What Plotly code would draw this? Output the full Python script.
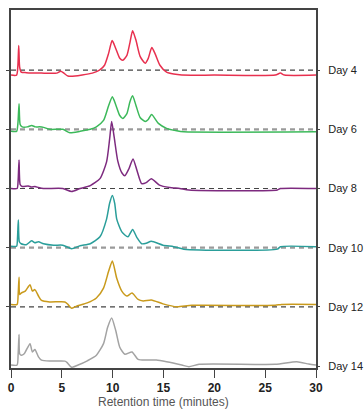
import plotly.graph_objects as go

# ---------------- data ----------------
days = ["Day 4", "Day 6", "Day 8", "Day 10", "Day 12", "Day 14"]
colors = ["#e8304f", "#3cb95a", "#7d2a7f", "#2a9e9a", "#c99a1c", "#a3a3a3"]

t_day4 = [0, 0.55, 0.68, 0.76, 0.85, 1.0, 1.5, 3.0, 4.5, 4.9, 5.2, 5.6, 6.3, 7.0, 8.0, 8.7, 9.2, 9.6, 9.95,
          10.3, 10.7, 11.0, 11.4, 11.7, 11.96, 12.3, 12.7, 13.2, 13.5, 13.85, 14.2, 14.65, 15.3, 16.0, 16.8,
          20, 26.0, 26.5, 26.9, 30]
s_day4 = [-5, -5, 5, 25, 3, -2, -2.5, -3, -3, -1, -3, -6, -6, -5, -3, 0, 5, 17, 30,
          22, 12, 10, 15, 28, 40, 30, 14, 7, 12, 23, 16, 5, -2, -4, -5,
          -5, -5, -3, -5, -5]

t_day6 = [0, 0.55, 0.68, 0.79, 0.9, 1.1, 1.6, 2.03, 2.4, 2.8, 3.2, 3.8, 5.1, 5.8, 6.8, 7.8, 8.4, 9.1, 9.6,
          9.97, 10.3, 10.7, 11.0, 11.4, 11.7, 11.96, 12.3, 12.7, 13.2, 13.5, 13.83, 14.5, 15.3, 16.3, 17, 30]
s_day6 = [-2, -2, 6, 26, 5, 2.5, 2.5, 4, 2.5, 2.5, 2, 0, 0, -3.5, -2, 0, 2.5, 9, 24,
          33, 25, 14, 11, 16, 28, 34, 24, 12, 8, 10, 15, 6, 1, -1.5, -2.5, -2.5]

t_day8 = [0, 0.6, 0.7, 0.79, 0.9, 1.1, 1.7, 2.0, 2.36, 2.7, 3.2, 5.1, 5.96, 6.8, 7.8, 8.75, 9.4, 9.7, 9.9,
          10.15, 10.5, 10.9, 11.2, 11.6, 12.0, 12.4, 12.85, 13.3, 13.8, 14.6, 15.6, 16.6, 17.5, 26.2, 26.5, 30]
s_day8 = [0, 0, 8, 29, 4, 2, 2.5, 1.5, 2, 1, 0, 0, -3, 0, 3, 10, 27, 50, 68,
          52, 28, 16, 13, 20, 30, 18, 5, 6, 10, 3.5, 1, 0, -1.5, -1.5, 0, 0]

t_day10 = [0, 0.55, 0.64, 0.72, 0.82, 1.0, 1.5, 2.03, 2.35, 2.7, 3.2, 4.2, 5.1, 5.96, 6.8, 7.8, 8.75, 9.4,
           9.7, 9.97, 10.2, 10.4, 10.9, 11.5, 11.96, 12.4, 12.85, 13.3, 13.8, 14.95, 16.0, 17, 26.2, 26.5, 30]
s_day10 = [1.5, 1.5, 10, 28, 6, 4, 3, 7, 5, 6, 4, 2.5, 2.5, -1, 2, 4, 11, 29,
           45, 53, 45, 29, 16, 11, 18.5, 10, 4, 4.5, 6.5, 2.5, 1, -1.5, -1.5, 1, 1]

t_day12 = [0, 0.6, 0.7, 0.79, 0.85, 1.0, 1.4, 1.87, 2.1, 2.35, 2.7, 3.0, 3.8, 5.3, 5.6, 5.96, 6.4, 7.5, 8.4,
           9.1, 9.6, 9.97, 10.4, 10.9, 11.4, 11.9, 12.5, 13.0, 13.8, 14.95, 16.3, 17.8, 26.0, 26.6, 30]
s_day12 = [2.5, 2.5, 12, 30, 12.5, 14, 16, 22.5, 16, 17.5, 11, 6.5, 5, 5, 2.5, -1.5, 0.5, 4, 9,
           19, 36, 46.5, 29, 16, 11, 14, 7.5, 6, 7, 3, 0, 1.5, 1.5, 2.5, 2.5]

t_day14 = [0, 0.6, 0.7, 0.79, 0.85, 1.0, 1.3, 1.87, 2.1, 2.35, 2.7, 3.0, 3.8, 5.3, 5.5, 5.96, 6.6, 7.5, 8.4,
           9.1, 9.5, 9.9, 10.3, 10.7, 11.2, 11.9, 12.5, 13.3, 14.3, 15.3, 16.8, 17.5, 18.5, 26.0, 28.1, 29.3, 30]
s_day14 = [1, 1, 12, 32, 12.5, 11, 12.5, 22.7, 14.3, 16.7, 9.3, 6, 5, 5, 3.7, -1.3, 1, 5.3, 11,
           22.7, 39, 48.7, 36, 19, 12, 14.3, 6.7, 6, 6, 4.3, 1, -0.7, 1.7, 1.7, 4.3, 2, 1]

x_ticks = [0, 5, 10, 15, 20, 25, 30]
x_title = "Retention time (minutes)"

times = [t_day4, t_day6, t_day8, t_day10, t_day12, t_day14]
signals = [s_day4, s_day6, s_day8, s_day10, s_day12, s_day14]

# ---------------- figure ----------------
SPACING = 60
offsets = [SPACING * (len(days) - 1 - i) for i in range(len(days))]

FONT = "Liberation Sans Narrow, Liberation Sans, Arial, sans-serif"

fig = go.Figure()

dash_colors = ["#444444", "#9a9a9a", "#444444", "#9a9a9a", "#444444"]
dash_widths = [1.2, 2.2, 1.2, 2.2, 1.2]
for i, off in enumerate(offsets[:-1]):
    fig.add_shape(type="line", xref="x", yref="y", x0=0, x1=30, y0=off, y1=off,
                  line=dict(color=dash_colors[i], width=dash_widths[i], dash="5px,4px"),
                  layer="below")

for i, d in enumerate(days):
    fig.add_trace(go.Scatter(
        x=times[i], y=[v + offsets[i] for v in signals[i]],
        mode="lines", name=d, showlegend=False,
        line=dict(color=colors[i], width=1.5, shape="spline", smoothing=0.6),
        hoverinfo="skip"))

# invisible trace to activate right-hand label axis
fig.add_trace(go.Scatter(x=[None], y=[None], yaxis="y2", showlegend=False))

fig.add_annotation(text=x_title, xref="paper", yref="paper", x=0.5, y=0,
                   xanchor="center", yanchor="middle", yshift=-34, showarrow=False,
                   font=dict(family=FONT, size=12, color="#555555"))

y_range = [-2, 361]
fig.update_layout(
    width=364, height=409,
    margin=dict(l=11, r=48, t=10, b=41, autoexpand=False),
    paper_bgcolor="white", plot_bgcolor="white",
    font=dict(family=FONT, size=12, color="#222222"),
    xaxis=dict(range=[0, 30], tickvals=x_ticks, ticks="outside", ticklen=8, tickwidth=1.3,
               tickcolor="#444444", showline=True, linecolor="#444444", linewidth=1.5,
               mirror=True, showgrid=False, zeroline=False, automargin=False,
               tickfont=dict(family=FONT, size=12, color="#222222", weight="bold")),
    yaxis=dict(range=y_range, tickvals=offsets[:-1], ticks="outside", ticklen=3,
               tickcolor="#444444", showticklabels=False, showline=True,
               linecolor="#444444", linewidth=1.5, mirror=True, showgrid=False,
               zeroline=False, automargin=False),
    yaxis2=dict(range=y_range, overlaying="y", side="right", tickvals=offsets,
                ticktext=days, ticks="outside", ticklen=3, tickcolor="#444444",
                showline=False, showgrid=False, zeroline=False, ticklabelstandoff=6,
                automargin=False,
                tickfont=dict(family=FONT, size=11, color="#222222")),
)

fig.write_html("out.html", config={"displayModeBar": False},
               post_script="document.body.style.margin='0';document.body.style.overflow='hidden';")
